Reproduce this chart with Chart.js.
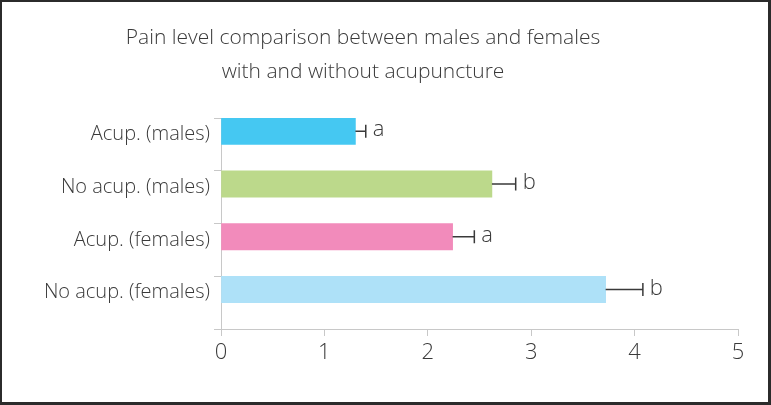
<!DOCTYPE html>
<html>
<head>
<meta charset="utf-8">
<script src="https://cdn.jsdelivr.net/npm/chart.js@4"></script>
<style>
    html, body { margin: 0; padding: 0; background: #fff; }
    .frame {
        width: 771px; height: 405px; box-sizing: border-box;
        border-style: solid; border-color: #2b2b2b;
        border-width: 2px 3px 3px 2px;
        position: relative; overflow: hidden;
    }
    #chart { position: absolute; left: 0; top: 0; }
</style>
</head>
<body>
<div class="frame">
    <canvas id="chart" width="766" height="400"></canvas>
</div>
<script>
// data
const titleLines = ["Pain level comparison between males and females", "with and without acupuncture"];
const groups = ["Acup. (males)", "No acup. (males)", "Acup. (females)", "No acup. (females)"];
const painMeans = [1.30, 2.62, 2.24, 3.72];
const painErrors = [0.10, 0.23, 0.21, 0.36];
const sigLetters = ["a", "b", "a", "b"];
const barColors = ["#45c8f2", "#bcd98b", "#f28bbb", "#aee1f8"];
const xTicks = [0, 1, 2, 3, 4, 5];

const FONT = "'Open Sans', Lato, sans-serif";
const TEXT = "#3a3a3a";
const GRID = "#c8c8c8";

// title drawn a bit left of canvas centre, like the original
const titlePlugin = {
    id: 'titleText',
    afterDraw(chart) {
        const ctx = chart.ctx;
        ctx.save();
        ctx.font = "300 21px " + FONT;
        ctx.fillStyle = TEXT;
        ctx.textAlign = "center";
        ctx.textBaseline = "middle";
        titleLines.forEach((t, i) => ctx.fillText(t, 361, 36 + i * 34));
        ctx.restore();
    }
};

// error bars (positive side only) + significance letters
const errorPlugin = {
    id: 'errorBars',
    afterDatasetsDraw(chart) {
        const ctx = chart.ctx;
        const xs = chart.scales.x;
        const meta = chart.getDatasetMeta(0);
        ctx.save();
        ctx.strokeStyle = "#3a3a3a";
        ctx.lineWidth = 1.5;
        ctx.font = "300 22px " + FONT;
        ctx.fillStyle = TEXT;
        ctx.textBaseline = "middle";
        meta.data.forEach((bar, i) => {
            const x0 = xs.getPixelForValue(painMeans[i]);
            const x1 = xs.getPixelForValue(painMeans[i] + painErrors[i]);
            const y = bar.y;
            ctx.beginPath();
            ctx.moveTo(x0, y);
            ctx.lineTo(x1, y);
            ctx.moveTo(x1, y - 6.5);
            ctx.lineTo(x1, y + 6.5);
            ctx.stroke();
            ctx.fillText(sigLetters[i], x1 + 7, y - 1);
        });
        ctx.restore();
    }
};

var ctx = document.getElementById('chart');
var chart = new Chart(ctx, {
    type: "bar",
    data: {
        labels: groups,
        datasets: [
            {
                data: painMeans,
                backgroundColor: barColors,
                borderWidth: 0,
                categoryPercentage: 1,
                barPercentage: 1
            },
            {
                // empty slot so each bar sits in the upper half of its band
                data: groups.map(() => null),
                categoryPercentage: 1,
                barPercentage: 1
            }
        ]
    },
    options: {
        indexAxis: 'y',
        responsive: false,
        animation: false,
        layout: { padding: { top: 116, right: 30, bottom: 23, left: 0 } },
        plugins: {
            legend: { display: false },
            title: { display: false },
            tooltip: { enabled: false }
        },
        scales: {
            x: {
                min: 0,
                max: 5,
                afterFit: (s) => { s.height = 50; },
                afterBuildTicks: (s) => { s.ticks = xTicks.map(v => ({ value: v })); },
                grid: { drawOnChartArea: false, tickLength: 7, color: GRID },
                border: { color: GRID },
                ticks: { color: TEXT, font: { family: FONT, size: 22, weight: 300 }, padding: 4 }
            },
            y: {
                afterFit: (s) => { s.width = 219; },
                grid: { drawOnChartArea: false, tickLength: 7, color: GRID, offset: true },
                border: { color: GRID },
                ticks: { color: TEXT, font: { family: FONT, size: 20, weight: 300 }, padding: 4, labelOffset: -10 }
            }
        }
    },
    plugins: [titlePlugin, errorPlugin]
});
</script>
</body>
</html>
